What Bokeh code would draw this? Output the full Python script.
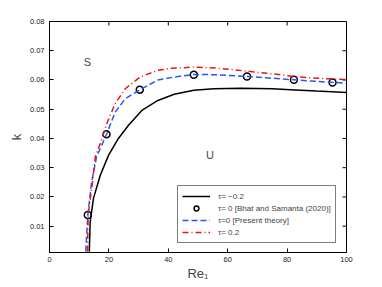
from bokeh.plotting import figure
from bokeh.models import Label, Legend, LegendItem, FixedTicker, Range1d
from bokeh.embed import file_html
from bokeh.resources import INLINE

# tau = -0.2
re_m = [13.4, 13.7, 14.8, 17.1, 19.9, 23.2, 26.6, 31.1, 36.5, 42, 48.6, 55.3, 64.3, 75, 81.1, 90, 100]
k_m = [0.0013, 0.0115, 0.0195, 0.0274, 0.0343, 0.0400, 0.0445, 0.0496, 0.0530, 0.0551, 0.0565, 0.0570, 0.0572, 0.0570, 0.0567, 0.0562, 0.0557]
# tau = 0 present theory
re_0 = [12.2, 12.9, 14.2, 15.9, 17.6, 19.3, 22.1, 25.5, 30.2, 36.5, 41.9, 48.5, 56, 66.6, 75, 82.1, 90, 100]
k_0 = [0.0013, 0.0138, 0.0252, 0.0340, 0.0377, 0.0417, 0.0490, 0.0536, 0.0565, 0.0600, 0.0610, 0.0619, 0.0618, 0.0612, 0.0606, 0.0601, 0.0595, 0.0589]
# tau = 0.2
re_p = [12.8, 13.0, 14.5, 15.4, 17.1, 19.3, 22.1, 25.5, 30.5, 36.5, 41, 48.5, 56, 66.6, 75, 82.1, 90, 100]
k_p = [0.0013, 0.0138, 0.0252, 0.0337, 0.0383, 0.0451, 0.0519, 0.0570, 0.0610, 0.0633, 0.0640, 0.0644, 0.0641, 0.0630, 0.0621, 0.0612, 0.0606, 0.0601]
# Bhat and Samanta (2020)
re_bs = [12.9, 19.2, 30.4, 48.6, 66.5, 82.3, 95.3]
k_bs = [0.0138, 0.0414, 0.0567, 0.0618, 0.0612, 0.0601, 0.0591]

x_ticks = [0, 20, 40, 60, 80, 100]
y_ticks = [0.01, 0.02, 0.03, 0.04, 0.05, 0.06, 0.07, 0.08]
x_lim = (0, 100)
y_lim = (0.001, 0.08)
labels = ["\u03c4= \u22120.2", "\u03c4= 0 [Bhat and Samanta (2020)]", "\u03c4=0 [Present theory]", "\u03c4= 0.2"]

FONT = "Liberation Sans"

p = figure(frame_width=297, frame_height=231, output_backend="svg", toolbar_location=None,
           x_range=Range1d(*x_lim), y_range=Range1d(*y_lim),
           min_border_left=49, min_border_right=36, min_border_top=21, min_border_bottom=35,
           background_fill_color="white", border_fill_color="white")
p.grid.visible = False
p.outline_line_color = "black"
p.outline_line_width = 1

for ax in [p.xaxis[0], p.yaxis[0]]:
    ax.major_tick_in = 4
    ax.major_tick_out = 0
    ax.minor_tick_line_color = None
    ax.major_label_text_font = FONT
    ax.major_label_text_font_size = "7.5px"
    ax.major_label_text_color = "#222222"
    ax.axis_line_color = "black"
    ax.axis_label_text_font = FONT
    ax.axis_label_text_font_style = "normal"
    ax.axis_label_text_font_size = "13px"
p.xaxis[0].ticker = FixedTicker(ticks=x_ticks)
p.yaxis[0].ticker = FixedTicker(ticks=y_ticks)
p.xaxis[0].major_label_standoff = 4
p.yaxis[0].major_label_standoff = 5
p.yaxis[0].axis_label = "k"
p.yaxis[0].axis_label_standoff = 3
p.xaxis[0].axis_label = "Re\u2081"
p.xaxis[0].axis_label_standoff = 1

# inward ticks on top and right edges
p.ray(x=x_ticks, y=[y_lim[1]] * len(x_ticks), length=4, length_units="screen",
      angle=-90, angle_units="deg", line_color="black", line_width=1)
p.ray(x=[x_lim[1]] * len(y_ticks), y=y_ticks, length=4, length_units="screen",
      angle=180, angle_units="deg", line_color="black", line_width=1)

r_m = p.line(re_m, k_m, line_color="black", line_width=1.5)
r_bs = p.scatter(re_bs, k_bs, marker="circle", size=7, fill_color=None, line_color="black", line_width=1.5)
r_0 = p.line(re_0, k_0, line_color="#2a55f5", line_width=1.5, line_dash="6 3")
r_p = p.line(re_p, k_p, line_color="#e8141a", line_width=1.5, line_dash="6 3 1 3")

legend = Legend(items=[LegendItem(label=labels[0], renderers=[r_m]),
                       LegendItem(label=labels[1], renderers=[r_bs]),
                       LegendItem(label=labels[2], renderers=[r_0]),
                       LegendItem(label=labels[3], renderers=[r_p])],
                location=(128, 9), label_text_font=FONT, label_text_font_size="8px",
                glyph_height=12, glyph_width=28, label_height=12, spacing=0, padding=4,
                margin=0, label_standoff=8, border_line_color="black", border_line_width=1,
                background_fill_color="white", background_fill_alpha=1)
p.add_layout(legend, "center")

p.add_layout(Label(x=12.8, y=0.066, text="S", text_font=FONT, text_font_size="11px",
                   text_align="center", text_baseline="middle"))
p.add_layout(Label(x=54, y=0.0343, text="U", text_font=FONT, text_font_size="11px",
                   text_align="center", text_baseline="middle"))

open("out.html", "w").write(file_html(p, INLINE))
